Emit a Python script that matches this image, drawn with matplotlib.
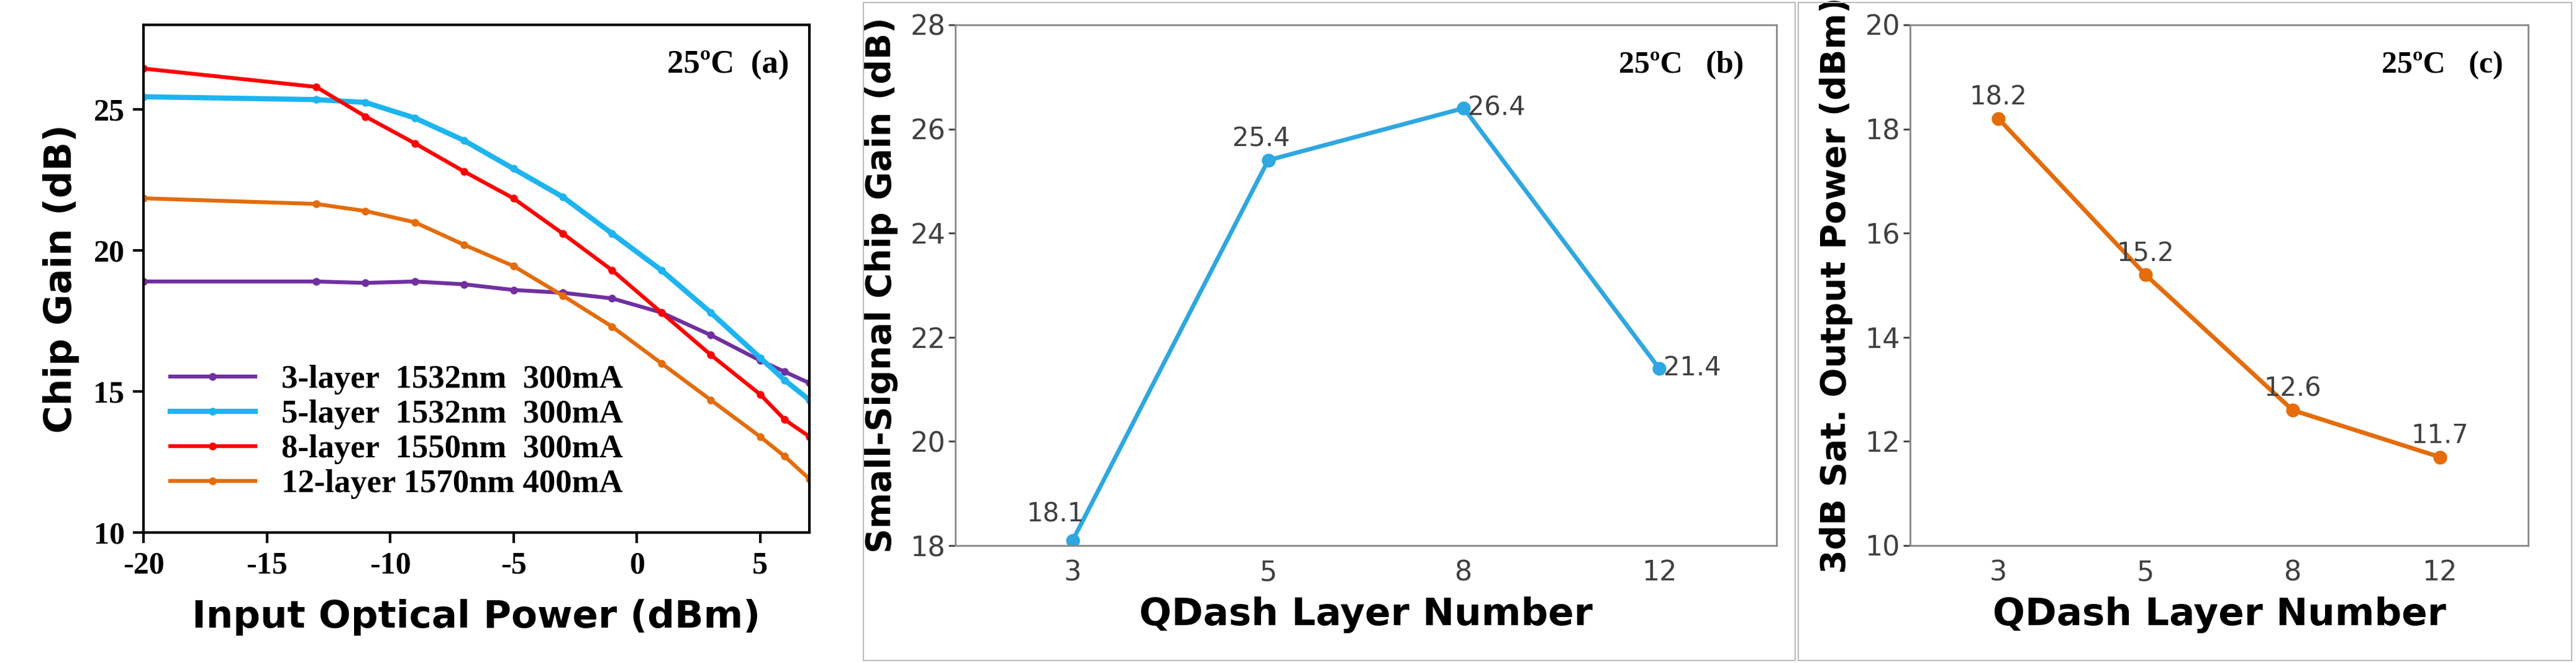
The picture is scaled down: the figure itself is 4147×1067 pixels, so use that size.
import matplotlib
matplotlib.use("Agg")
import matplotlib.pyplot as plt
from matplotlib.patches import Rectangle

plt.rcParams["axes.unicode_minus"] = False

# panel (a)
p_in = [-20, -13, -11, -9, -7, -5, -3, -1, 1, 3, 5, 6, 7]
g3 = [18.9, 18.9, 18.85, 18.9, 18.8, 18.6, 18.5, 18.3, 17.8, 17.0, 16.1, 15.7, 15.3]
g5 = [25.45, 25.35, 25.25, 24.7, 23.9, 22.9, 21.9, 20.6, 19.3, 17.8, 16.2, 15.4, 14.7]
g8 = [26.45, 25.8, 24.75, 23.8, 22.8, 21.85, 20.6, 19.3, 17.8, 16.3, 14.9, 14.0, 13.4]
g12 = [21.85, 21.65, 21.4, 21.0, 20.2, 19.45, 18.4, 17.3, 16.0, 14.7, 13.4, 12.7, 11.9]
labels_a = ["3-layer  1532nm  300mA", "5-layer  1532nm  300mA",
            "8-layer  1550nm  300mA", "12-layer 1570nm 400mA"]
colors_a = ["#7030A0", "#1EB4F0", "#FF0000", "#E46C0A"]

# panels (b) and (c)
layers = ["3", "5", "8", "12"]
ss_gain = [18.1, 25.4, 26.4, 21.4]
sat_pow = [18.2, 15.2, 12.6, 11.7]

W, H = 4147, 1067
fig = plt.figure(figsize=(W / 100, H / 100), dpi=100)

def box(l, b, r, t):
    return fig.add_axes([l / W, 1 - b / H, (r - l) / W, (b - t) / H])

# ---- (a)
ax = box(231, 857, 1303, 40)
for y, c, lab in zip([g3, g5, g8, g12], colors_a, labels_a):
    lw = 6 if c == "#1EB4F0" else 4.5
    ax.plot(p_in, y, color=c, lw=lw, marker="o", ms=8, label=lab)
ax.set_xlim(-20, 7)
ax.set_ylim(10, 28)
ax.set_xticks([-20, -15, -10, -5, 0, 5])
ax.set_yticks([10, 15, 20, 25])
for s in ax.spines.values():
    s.set_linewidth(3)
ax.tick_params(labelsize=36, width=3, length=12, direction="out", pad=10)
for t in ax.get_xticklabels() + ax.get_yticklabels():
    t.set_fontfamily("Liberation Serif")
    t.set_fontweight("bold")
ax.set_xlabel("Input Optical Power (dBm)", fontsize=44, fontweight="bold", labelpad=22)
ax.set_ylabel("Chip Gain (dB)", fontsize=44, fontweight="bold", labelpad=16)
ax.text(0.97, 0.95, "25ºC  (a)", transform=ax.transAxes, ha="right", va="top",
        fontsize=38, fontweight="bold", fontfamily="Liberation Serif")
ax.legend(loc="lower left", bbox_to_anchor=(0.02, 0.04), frameon=False,
          prop={"family": "Liberation Serif", "size": 38, "weight": "bold"},
          handlelength=2.6, labelspacing=0.15, borderaxespad=0)

def excel_panel(l, r, frame_l, frame_r, vals, ylim, ylabel, color, tag, offs):
    fig.patches.append(Rectangle((frame_l / W, 0.004), (frame_r - frame_l) / W, 0.992,
                                 transform=fig.transFigure, fill=False,
                                 ec="#BBBBBB", lw=1.5))
    ax = box(l, 878, r, 40)
    xs = range(len(vals))
    ax.plot(xs, vals, color=color, lw=5, marker="o", ms=15)
    ax.set_xlim(-0.6, len(vals) - 0.4)
    ax.set_ylim(*ylim)
    ax.set_yticks(range(ylim[0], ylim[1] + 1, 2))
    ax.set_xticks(list(xs))
    ax.set_xticklabels(layers)
    for s in ax.spines.values():
        s.set_color("#888888")
        s.set_linewidth(2)
    ax.tick_params(labelsize=32, colors="#404040", width=2, length=8)
    ax.tick_params(axis="x", length=0, pad=16)
    ax.set_xlabel("QDash Layer Number", fontsize=44, fontweight="bold", labelpad=12)
    ax.set_ylabel(ylabel, fontsize=40, fontweight="bold", labelpad=14)
    ax.text(0.96, 0.95, tag, transform=ax.transAxes, ha="right", va="top",
            fontsize=36, fontweight="bold", fontfamily="Liberation Serif")
    for x, v, (dx, dy) in zip(xs, vals, offs):
        ax.annotate(f"{v}", (x, v), xytext=(dx, dy), textcoords="offset points",
                    ha="center", fontsize=30, color="#404040")

excel_panel(1538, 2860, 1390, 2890, ss_gain, (18, 28), "Small-Signal Chip Gain (dB)",
            "#2FA7E0", "25ºC   (b)", [(-20, 22), (-8, 16), (38, -8), (38, -8)])
excel_panel(3075, 4070, 2895, 4140, sat_pow, (10, 20), "3dB Sat. Output Power (dBm)",
            "#E46C0A", "25ºC   (c)", [(0, 16), (0, 16), (0, 16), (0, 16)])

fig.savefig("out.png", dpi=100, facecolor="white")
